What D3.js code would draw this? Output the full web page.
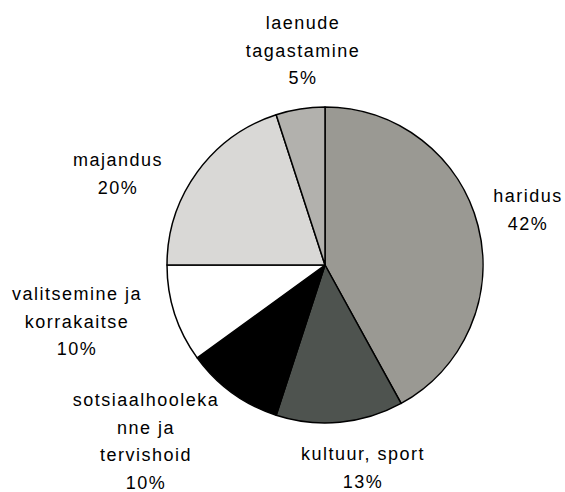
<!DOCTYPE html>
<html>
<head>
<meta charset="utf-8">
<script src="https://cdn.jsdelivr.net/npm/d3@7"></script>
<style>
  body { margin: 0; background: #fff; }
  text { font-family: Arial, "Liberation Sans", sans-serif; font-size: 18px; fill: #000; letter-spacing: 1.5px; }
</style>
</head>
<body>
<div id="chart"></div>
<script>
const categories = ['haridus', 'kultuur, sport', 'sotsiaalhoolekanne ja tervishoid', 'valitsemine ja korrakaitse', 'majandus', 'laenude tagastamine'];
const values = [42, 13, 10, 10, 20, 5];
// label lines as they wrap in the picture
const labelLines = [
  ['haridus'],
  ['kultuur, sport'],
  ['sotsiaalhooleka', 'nne ja', 'tervishoid'],
  ['valitsemine ja', 'korrakaitse'],
  ['majandus'],
  ['laenude', 'tagastamine'],
];

const width = 565;
const height = 492;
const cx = 325;
const cy = 265;
const radius = 158;
const lineHeight = 27.5;

const colors = ['#9a9993', '#4e534f', '#000000', '#ffffff', '#d9d8d6', '#b2b1ad'];
// centre x / first baseline of each label block
const labelPos = [[528, 202], [363, 460], [146, 406], [77, 300], [118, 166], [303, 29]];

const svg = d3.select('#chart').append('svg')
  .attr('width', width)
  .attr('height', height);

const data = categories.map((name, i) => ({name, value: values[i], i}));

const pie = d3.pie().sort(null).value((d) => d.value);
const arc = d3.arc().innerRadius(0).outerRadius(radius);

const g = svg.append('g')
  .attr('transform', `translate(${cx},${cy})`);

g.selectAll('path.slice')
  .data(pie(data))
  .enter().append('path')
  .attr('class', 'slice')
  .attr('d', arc)
  .style('fill', (d) => colors[d.data.i])
  .style('stroke', '#000')
  .style('stroke-width', 1.5)
  .style('stroke-linejoin', 'round');

// labels
const labels = svg.selectAll('text.label')
  .data(data)
  .enter().append('text')
  .attr('class', 'label')
  .attr('text-anchor', 'middle');

labels.each(function(d) {
  const [x, y] = labelPos[d.i];
  const lines = labelLines[d.i].concat([`${d.value}%`]);
  d3.select(this).selectAll('tspan')
    .data(lines)
    .enter().append('tspan')
    .attr('x', x)
    .attr('y', (l, k) => y + k * lineHeight)
    .text((l) => l);
});
</script>
</body>
</html>
